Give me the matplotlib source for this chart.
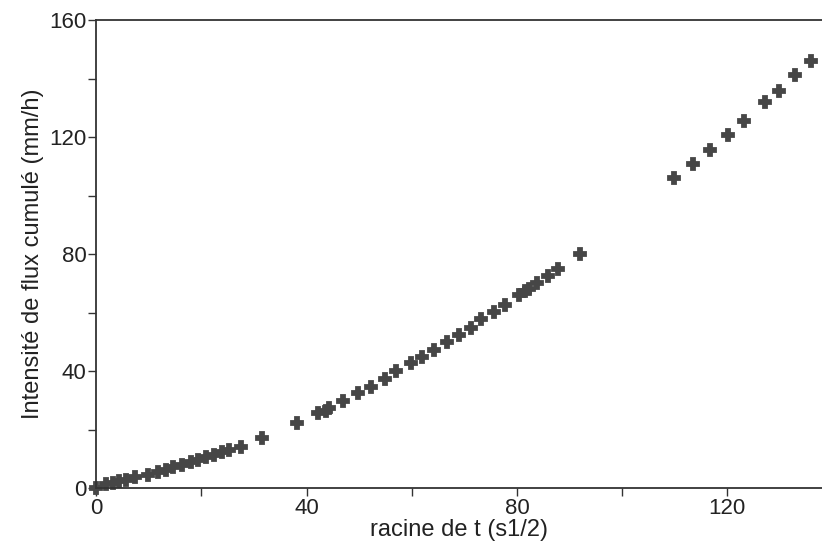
import numpy as np
import matplotlib.pyplot as plt
from matplotlib.ticker import MultipleLocator

plt.rcParams['font.family'] = ['Liberation Sans', 'DejaVu Sans']

# racine de t (s1/2)
racine_t = [0.0, 1.9, 3.2, 4.4, 5.6, 7.4, 9.8, 11.7, 13.3, 14.6, 16.4, 18.0, 19.3,
            20.8, 22.4, 24.0, 25.2, 27.5, 31.6,
            38.1, 42.1, 43.7, 44.3, 47.0, 49.7, 52.2, 54.9, 57.1, 59.8, 62.0, 64.2,
            66.7, 68.9, 71.2, 73.2, 75.6, 77.7, 80.3, 81.6, 82.2, 83.8, 85.9, 87.9, 92.0,
            109.8, 113.4, 116.8, 120.1, 123.2, 127.1, 129.9, 132.8, 135.9]
# intensite de flux cumule (mm/h)
flux = [0.0, 1.2, 1.7, 2.3, 2.7, 3.7, 4.5, 5.4, 6.1, 7.1, 8.0, 8.8, 9.6,
        10.5, 11.4, 12.2, 13.1, 14.1, 17.1,
        22.2, 25.8, 26.4, 27.2, 29.9, 32.4, 34.7, 37.2, 40.0, 42.6, 44.9, 47.1,
        50.1, 52.3, 54.6, 57.7, 60.2, 62.5, 65.9, 67.3, 68.2, 70.2, 72.5, 75.0, 80.2,
        106.0, 110.8, 115.7, 120.9, 125.7, 132.2, 135.8, 141.3, 146.1]

fig = plt.figure(figsize=(8.22, 5.52), dpi=100)
ax = fig.add_axes([0.117, 0.116, 0.883, 0.847])

ax.plot(racine_t, flux, linestyle='none', marker='P', markersize=9,
        color='#464646', markeredgecolor='#464646', markeredgewidth=1.3,
        clip_on=False)

ax.set_xlim(0, 138)
ax.set_ylim(0, 160)
ax.xaxis.set_major_locator(MultipleLocator(40))
ax.xaxis.set_minor_locator(MultipleLocator(20))
ax.yaxis.set_major_locator(MultipleLocator(40))
ax.yaxis.set_minor_locator(MultipleLocator(20))
ax.tick_params(which='both', direction='out', length=6, width=1, color='#333333',
               labelsize=16, pad=1, labelcolor='#222222')

for s in ['left', 'bottom', 'top']:
    ax.spines[s].set_color('#333333')
    ax.spines[s].set_linewidth(1.3)
ax.spines['right'].set_visible(False)

ax.set_xlabel('racine de t (s1/2)', fontsize=17, color='#222222', labelpad=0)
ax.set_ylabel('Intensité de flux cumulé (mm/h)', fontsize=17, color='#222222', labelpad=4)

plt.savefig('out.png', dpi=100)
